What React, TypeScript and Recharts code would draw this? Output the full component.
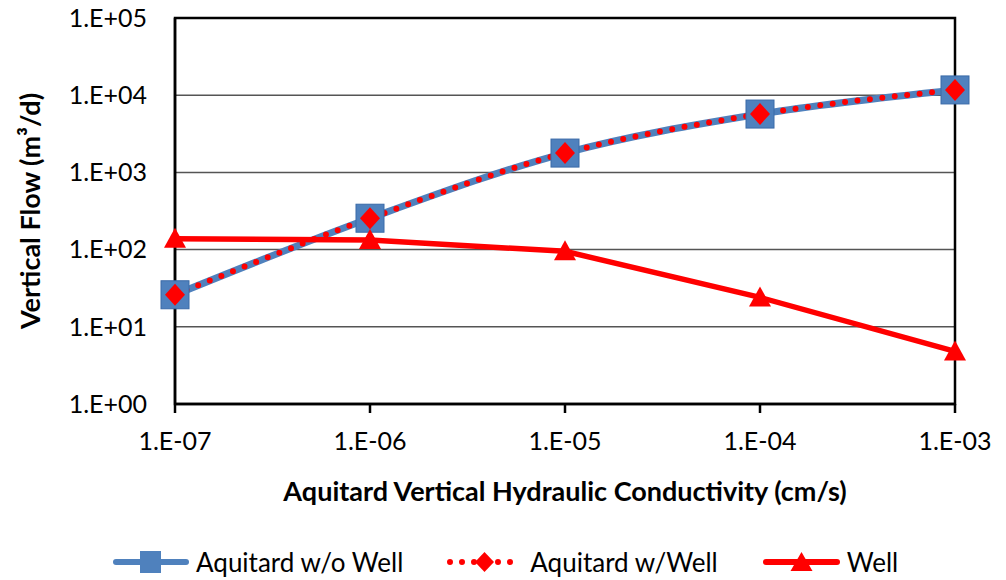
import React from 'react';
import { LineChart, Line, XAxis, YAxis, CartesianGrid, Legend, ReferenceArea } from 'recharts';

const conductivityLabels = ['1.E-07', '1.E-06', '1.E-05', '1.E-04', '1.E-03'];
const aquitardWithoutWell = [26, 255, 1780, 5700, 11700];
const aquitardWithWell = [26, 255, 1780, 5700, 11700];
const wellFlow = [138, 133, 95, 24, 4.8];
const yTicks = [1, 10, 100, 1000, 10000, 100000];
const yTickLabels = ['1.E+00', '1.E+01', '1.E+02', '1.E+03', '1.E+04', '1.E+05'];

const data = conductivityLabels.map((k, i) => ({
  k,
  noWell: aquitardWithoutWell[i],
  withWell: aquitardWithWell[i],
  well: wellFlow[i],
}));

const FONT = 'Lato, "Liberation Sans", sans-serif';
const BLUE = '#4F81BD';
const RED = '#FF0000';

const SquareDot = (props: any) => {
  const { cx, cy } = props;
  if (cx == null || cy == null) return null;
  return <rect x={cx - 14} y={cy - 14} width={28} height={28} fill={BLUE} stroke="#3A6AA8" strokeWidth={1} />;
};
const DiamondDot = (props: any) => {
  const { cx, cy } = props;
  if (cx == null || cy == null) return null;
  return <path d={`M${cx},${cy - 11} L${cx + 10},${cy} L${cx},${cy + 11} L${cx - 10},${cy} Z`} fill={RED} />;
};
const TriangleDot = (props: any) => {
  const { cx, cy } = props;
  if (cx == null || cy == null) return null;
  return <path d={`M${cx},${cy - 11} L${cx + 11},${cy + 9} L${cx - 11},${cy + 9} Z`} fill={RED} />;
};

const legendItems = [
  { name: 'Aquitard w/o Well', kind: 'square', gap: 43 },
  { name: 'Aquitard w/Well', kind: 'diamond', gap: 45 },
  { name: 'Well', kind: 'triangle', gap: 0 },
];

const LegendIcon = ({ kind }: { kind: string }) => {
  if (kind === 'square') {
    return (
      <svg width={76} height={26} style={{ display: 'block' }}>
        <line x1={3} y1={13} x2={73} y2={13} stroke={BLUE} strokeWidth={6} strokeLinecap="round" />
        <rect x={27} y={2} width={21} height={22} fill={BLUE} />
      </svg>
    );
  }
  if (kind === 'diamond') {
    return (
      <svg width={77} height={26} style={{ display: 'block' }}>
        <line x1={4} y1={13} x2={74} y2={13} stroke={RED} strokeWidth={6} strokeLinecap="round" strokeDasharray="0 12" />
        <path d="M38.5,3 L48,13 L38.5,23 L29,13 Z" fill={RED} />
      </svg>
    );
  }
  return (
    <svg width={77} height={26} style={{ display: 'block' }}>
      <line x1={3} y1={13} x2={74} y2={13} stroke={RED} strokeWidth={6} strokeLinecap="round" />
      <path d="M38.5,3 L49.5,22 L27.5,22 Z" fill={RED} />
    </svg>
  );
};

const renderLegend = () => (
  <div style={{ display: 'flex', justifyContent: 'flex-start', paddingLeft: 113, paddingTop: 9, alignItems: 'center', height: 26, fontFamily: FONT, fontSize: 26, color: '#000' }}>
    {legendItems.map((it) => (
      <div key={it.name} style={{ display: 'flex', alignItems: 'center', marginRight: it.gap }}>
        <LegendIcon kind={it.kind} />
        <span style={{ marginLeft: 7, lineHeight: '26px' }}>{it.name}</span>
      </div>
    ))}
  </div>
);

const YLabel = (props: any) => {
  const vb = props.viewBox || {};
  const cy = vb.y + vb.height / 2;
  const cx = 29;
  return (
    <text x={cx} y={cy} transform={`rotate(-90, ${cx}, ${cy})`} textAnchor="middle" dominantBaseline="central" fontFamily={FONT} fontSize={27} fontWeight="bold" fill="#000">
      Vertical Flow (m³/d)
    </text>
  );
};

export default function App() {
  return (
    <div style={{ position: 'absolute', left: 0, top: 0, width: 1006, height: 580, background: '#fff' }}>
      <LineChart width={1006} height={580} data={data} margin={{ top: 18, right: 51, left: 0, bottom: 0 }}>
        <CartesianGrid vertical={false} stroke="#555555" strokeWidth={1.5} />
        <XAxis
          dataKey="k"
          height={136}
          axisLine={{ stroke: '#000', strokeWidth: 2.5 }}
          tickLine={{ stroke: '#000', strokeWidth: 2.5 }}
          tickSize={9}
          tickMargin={19}
          tick={{ fontFamily: FONT, fontSize: 25, fill: '#000' }}
          interval={0}
          label={{ value: 'Aquitard Vertical Hydraulic Conductivity (cm/s)', position: 'insideTop', offset: 78, fontFamily: FONT, fontSize: 27, fontWeight: 'bold', fill: '#000' }}
        />
        <YAxis
          scale="log"
          domain={[1, 100000]}
          ticks={yTicks}
          allowDataOverflow
          width={175}
          axisLine={{ stroke: '#000', strokeWidth: 2.5 }}
          tickLine={false}
          tickSize={0}
          tickMargin={28}
          tick={{ fontFamily: FONT, fontSize: 25, fill: '#000' }}
          tickFormatter={(v: number) => yTickLabels[yTicks.indexOf(v)] ?? ''}
          label={<YLabel />}
        />
        <ReferenceArea x1={conductivityLabels[0]} x2={conductivityLabels[conductivityLabels.length - 1]} y1={1} y2={100000} fill="none" stroke="#000" strokeWidth={2.5} ifOverflow="visible" />
        <Legend verticalAlign="bottom" height={40} content={renderLegend} />
        <Line dataKey="noWell" name="Aquitard w/o Well" type="monotone" stroke={BLUE} strokeWidth={7} dot={<SquareDot />} activeDot={false} isAnimationActive={false} />
        <Line dataKey="withWell" name="Aquitard w/Well" type="monotone" stroke={RED} strokeWidth={6} strokeLinecap="round" style={{ strokeLinecap: 'round' }} strokeDasharray="0 12.5" dot={<DiamondDot />} activeDot={false} isAnimationActive={false} />
        <Line dataKey="well" name="Well" type="linear" stroke={RED} strokeWidth={5.5} dot={<TriangleDot />} activeDot={false} isAnimationActive={false} />
      </LineChart>
    </div>
  );
}
